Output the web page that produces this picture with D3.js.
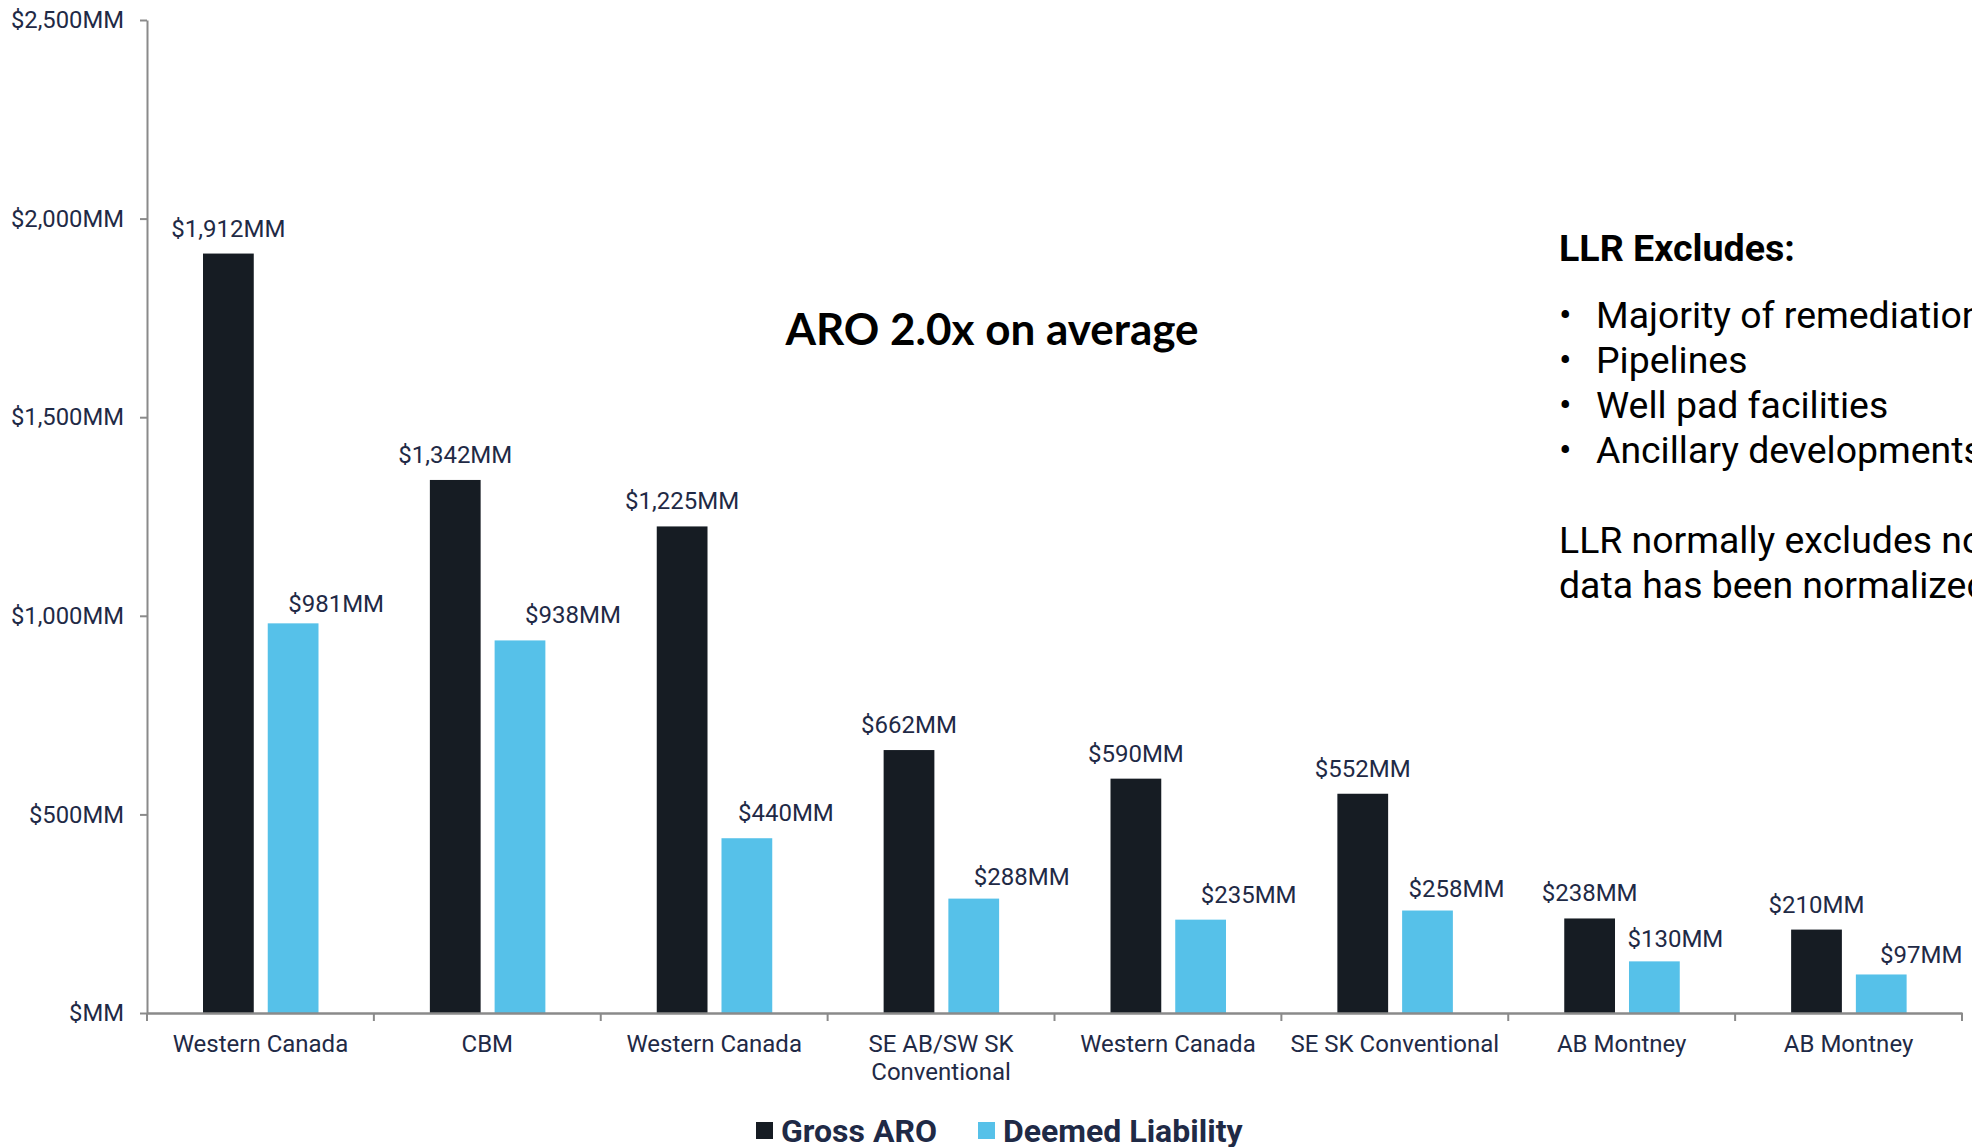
<!DOCTYPE html>
<html>
<head>
<meta charset="utf-8">
<script src="https://cdn.jsdelivr.net/npm/d3@7"></script>
<style>
  html, body { margin: 0; padding: 0; background: #fff; }
  svg { display: block; }
</style>
</head>
<body>
<svg id="chart" width="1972" height="1147"></svg>
<script>
// Asset groups along the x axis (second line used where the name wraps)
const categories = [
  ["Western Canada"],
  ["CBM"],
  ["Western Canada"],
  ["SE AB/SW SK", "Conventional"],
  ["Western Canada"],
  ["SE SK Conventional"],
  ["AB Montney"],
  ["AB Montney"]
];
const seriesNames = ["Gross ARO", "Deemed Liability"];
const grossARO = [1912, 1342, 1225, 662, 590, 552, 238, 210];
const deemedLiability = [981, 938, 440, 288, 235, 258, 130, 97];
const yTicks = [0, 500, 1000, 1500, 2000, 2500];

const noteTitle = "LLR Excludes:";
const noteBullets = ["Majority of remediation", "Pipelines", "Well pad facilities", "Ancillary developments"];
const noteFooter = ["LLR normally excludes non-producing sites;", "data has been normalized for comparison"];
const callout = "ARO 2.0x on average";

// Hand-placed offsets for the Deemed Liability value labels [dx, dy]
const deemedLabelNudge = [[43, 6], [53, 0], [39, 0], [48, 3], [48, 0], [29, 3], [21, 3], [40, 6]];

const colors = { "Gross ARO": "#161c23", "Deemed Liability": "#56c1e9" };
const textColor = "#1f2a46";
const axisColor = "#8a8a8a";
const font = "Roboto, 'Noto Sans', sans-serif";

const svg = d3.select("#chart");
const plot = { left: 147, right: 1962, top: 20, bottom: 1013 };

const x0 = d3.scaleBand().domain(d3.range(categories.length)).range([plot.left, plot.right]).padding(0);
const x1 = d3.scaleBand().domain(seriesNames).range([56, 171.5]).paddingInner(0.216).paddingOuter(0);
const y = d3.scaleLinear().domain([0, 2500]).range([plot.bottom, plot.top]);

const rows = categories.map((c, i) => ({
  i,
  values: [
    { series: "Gross ARO", value: grossARO[i], nudge: [0, 0] },
    { series: "Deemed Liability", value: deemedLiability[i], nudge: deemedLabelNudge[i] }
  ]
}));

// Bars
const groups = svg.append("g").selectAll("g").data(rows).join("g")
  .attr("transform", d => `translate(${x0(d.i)},0)`);

groups.selectAll("rect").data(d => d.values).join("rect")
  .attr("x", d => x1(d.series))
  .attr("width", x1.bandwidth())
  .attr("y", d => y(d.value))
  .attr("height", d => y(0) - y(d.value))
  .attr("fill", d => colors[d.series]);

// Value labels
const fmt = d3.format(",");
groups.selectAll("text.val").data(d => d.values).join("text")
  .attr("class", "val")
  .attr("x", d => x1(d.series) + x1.bandwidth() / 2 + d.nudge[0])
  .attr("y", d => y(d.value) - 17 + d.nudge[1])
  .attr("text-anchor", "middle")
  .attr("font-family", font)
  .attr("font-size", 24)
  .attr("fill", textColor)
  .text(d => "$" + fmt(d.value) + "MM");

// Y axis
const yAxis = svg.append("g")
  .attr("transform", `translate(${plot.left},0)`)
  .call(d3.axisLeft(y).tickValues(yTicks).tickSize(7).tickSizeOuter(0).tickPadding(16)
    .tickFormat(d => "$" + (d === 0 ? "" : fmt(d)) + "MM"));
yAxis.select(".domain").attr("stroke", axisColor).attr("stroke-width", 2);
yAxis.selectAll(".tick line").attr("stroke", axisColor).attr("stroke-width", 2);
yAxis.selectAll(".tick text").attr("font-family", font).attr("font-size", 23.8).attr("fill", textColor);

// X axis: baseline, boundary ticks, centred category names
const xAxis = svg.append("g")
  .attr("transform", `translate(0,${plot.bottom})`)
  .call(d3.axisBottom(x0).tickSize(0).tickSizeOuter(0).tickPadding(0).tickFormat(() => ""));
xAxis.select(".domain").attr("stroke", axisColor).attr("stroke-width", 2.5);

const boundaries = d3.range(categories.length + 1).map(i => i < categories.length ? x0(i) : plot.right);
xAxis.selectAll("line.bound").data(boundaries).join("line")
  .attr("class", "bound")
  .attr("x1", d => d).attr("x2", d => d)
  .attr("y1", 0).attr("y2", 8)
  .attr("stroke", axisColor).attr("stroke-width", 2);

xAxis.selectAll(".tick").each(function(i) {
  const t = d3.select(this).append("text")
    .attr("y", 39)
    .attr("text-anchor", "middle")
    .attr("font-family", font)
    .attr("font-size", 24)
    .attr("fill", textColor);
  categories[i].forEach((line, k) => {
    t.append("tspan").attr("x", 0).attr("dy", k === 0 ? 0 : 28).text(line);
  });
});

// Callout
svg.append("text")
  .attr("x", 992).attr("y", 345)
  .attr("text-anchor", "middle")
  .attr("font-family", "Lato, 'Open Sans', sans-serif")
  .attr("font-weight", 700)
  .attr("font-size", 44)
  .attr("fill", "#000")
  .text(callout);

// Side note
const note = svg.append("g").attr("font-family", font).attr("fill", "#000");
note.append("text")
  .attr("x", 1559).attr("y", 261)
  .attr("font-weight", 700).attr("font-size", 37.6)
  .text(noteTitle);
noteBullets.forEach((b, k) => {
  const yy = 328 + k * 45;
  note.append("text").attr("x", 1559).attr("y", yy).attr("font-size", 37.4).text("•");
  note.append("text").attr("x", 1596).attr("y", yy).attr("font-size", 37.4).text(b);
});
noteFooter.forEach((l, k) => {
  note.append("text").attr("x", 1559).attr("y", 553 + k * 45).attr("font-size", 37.4).text(l);
});

// Legend
const legend = svg.append("g").attr("font-family", font);
const legendItems = [
  { name: "Gross ARO", sx: 756, tx: 781 },
  { name: "Deemed Liability", sx: 978, tx: 1003 }
];
legend.selectAll("rect").data(legendItems).join("rect")
  .attr("x", d => d.sx).attr("y", 1122).attr("width", 17).attr("height", 17)
  .attr("fill", d => colors[d.name]);
legend.selectAll("text").data(legendItems).join("text")
  .attr("x", d => d.tx).attr("y", 1142)
  .attr("font-size", 32).attr("font-weight", 700)
  .attr("fill", textColor)
  .text(d => d.name);
</script>
</body>
</html>
